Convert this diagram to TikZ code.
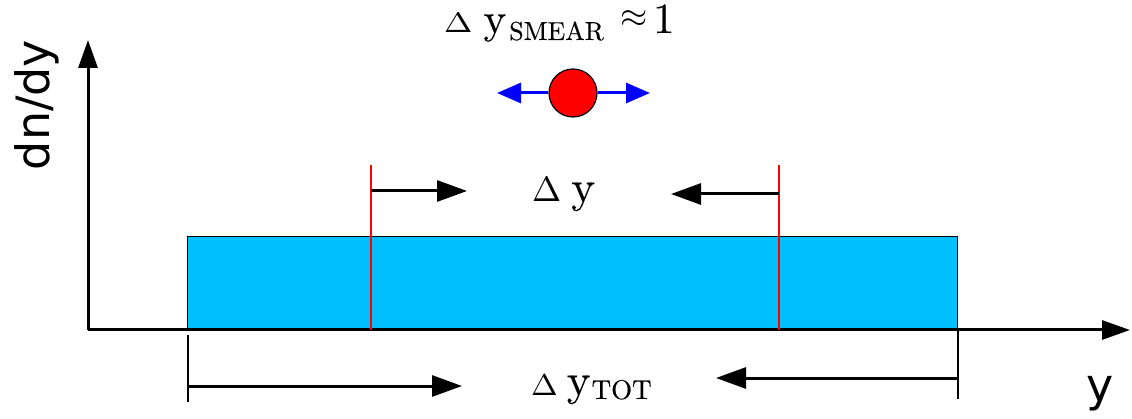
\documentclass[tikz,border=0pt]{standalone}
\usepackage{fontspec}
\newfontfamily\sansf{DejaVu Sans}
\newfontfamily\rmten{lmroman10-regular.otf}[FakeBold=0.3]
\usetikzlibrary{arrows.meta}
\definecolor{barblue}{RGB}{0,191,255}
\newcommand{\fs}[1]{\fontsize{#1}{#1}\selectfont}
\newcommand{\bigD}[2]{\scalebox{#1}[#2]{$\Delta$}}
\begin{document}
\begin{tikzpicture}[x=1pt,y=-1pt,
  axis/.style={line width=3pt, -{Triangle[length=28pt,width=19pt]}},
  bararrow/.style={line width=3pt, -{Triangle[length=30pt,width=21pt]}},
  bluearrow/.style={blue, line width=3pt, -{Triangle[length=24pt,width=20pt]}},
  redline/.style={red, line width=2pt},
  tick/.style={black, line width=2.2pt},
  lab/.style={font=\rmten, inner sep=0pt, anchor=base west},
  sanslab/.style={font=\sansf\fontsize{#1}{#1}\selectfont, inner sep=0pt}]
\useasboundingbox (0,0) rectangle (1132,419);
% distribution box
\node[draw=black, fill=barblue, line width=1pt, minimum width=770pt, minimum height=94pt,
      inner sep=0pt, anchor=north west] (box) at (187,236) {};
% axes
\coordinate (O) at (88,330);
\coordinate (ytip) at (88,40);
\coordinate (xtip) at (1130,330);
\draw[axis] (O) -- (ytip);
\draw[axis] (O) -- (xtip);
\node[sanslab=46, rotate=90] (ylabel) at (37,105) {dn/dy};
\node[sanslab=46] (xlabel) at (1100,394) {y};
% red window lines
\coordinate (r1t) at (371,165); \coordinate (r1b) at (371,330);
\coordinate (r2t) at (779,165); \coordinate (r2b) at (779,330);
\draw[redline] (r1t) -- (r1b);
\draw[redline] (r2t) -- (r2b);
\coordinate (a1s) at (371,191); \coordinate (a1e) at (467,191);
\coordinate (a2s) at (779,194); \coordinate (a2e) at (671,194);
\draw[bararrow] (a1s) -- (a1e);
\draw[bararrow] (a2s) -- (a2e);
\node[lab] (dy) at (532,202) {\bigD{3.5}{3.5}\hspace{10pt}{\fs{45}y}};
% total range
\coordinate (t1t) at (188,335); \coordinate (t1b) at (188,402);
\coordinate (t2t) at (958,330); \coordinate (t2b) at (958,399);
\draw[tick] (t1t) -- (t1b);
\draw[tick] (t2t) -- (t2b);
\coordinate (b1s) at (188,386); \coordinate (b1e) at (462,386);
\coordinate (b2s) at (958,378); \coordinate (b2e) at (716,378);
\draw[bararrow] (b1s) -- (b1e);
\draw[bararrow] (b2s) -- (b2e);
\node[lab] (dytot) at (531,395) {\bigD{3.2}{3.0}\hspace{9pt}{\fs{45}y}\hspace{1pt}\raisebox{-4pt}{\fs{27}TOT}};
% smear
\node[lab] (smear) at (444,33) {\bigD{3.4}{2.8}\hspace{11pt}{\fs{43}y}\hspace{3pt}\raisebox{-7pt}{\fs{26}SMEAR}\hspace{17pt}\raisebox{5pt}{\scalebox{3.5}{$\approx$}}\hspace{5pt}{\fs{43}1}};
\node[circle, draw=black, fill=red, line width=1.2pt, minimum size=48pt, inner sep=0pt] (ball) at (573,93) {};
\coordinate (bl) at (497,93); \coordinate (br) at (650,93);
\draw[bluearrow] (ball.west) -- (bl);
\draw[bluearrow] (ball.east) -- (br);
\end{tikzpicture}
\end{document}
